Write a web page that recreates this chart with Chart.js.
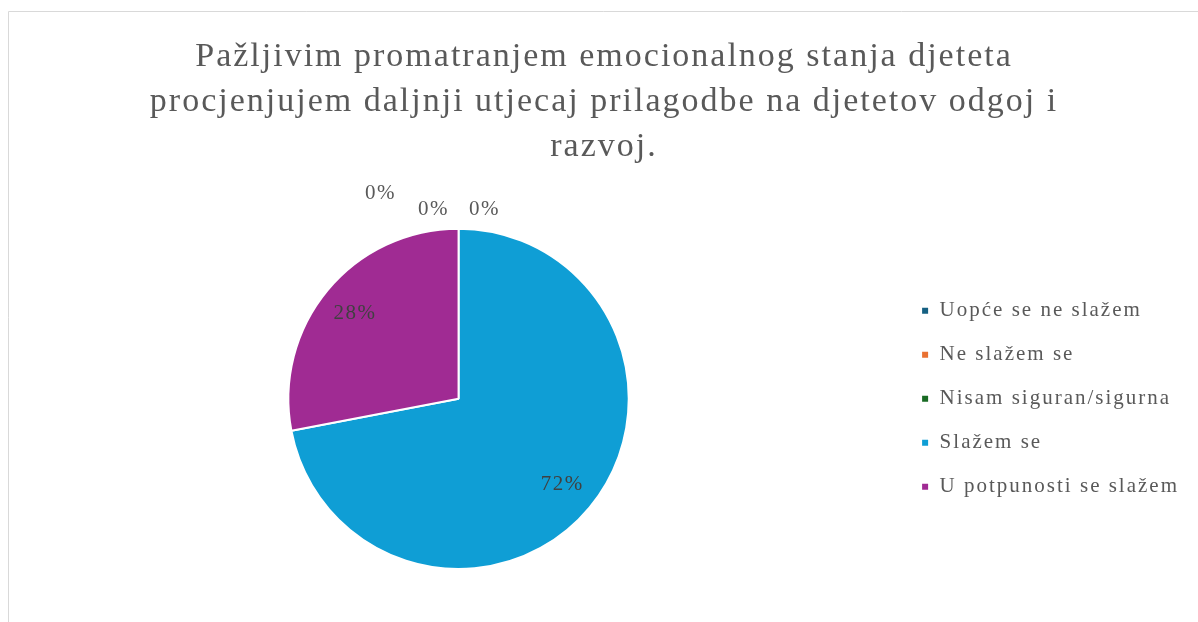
<!DOCTYPE html>
<html>
<head>
<meta charset="utf-8">
<script src="https://cdn.jsdelivr.net/npm/chart.js@4/dist/chart.umd.min.js"></script>
<style>
    html, body { margin: 0; padding: 0; background: #fff; }
    #wrap { width: 1198px; height: 622px; position: relative; }
</style>
</head>
<body>
<div id="wrap"><canvas id="pita" width="1198" height="622"></canvas></div>
<script>
// Podaci grafa
const naslov = [
    "Pažljivim promatranjem emocionalnog stanja djeteta",
    "procjenjujem daljnji utjecaj prilagodbe na djetetov odgoj i",
    "razvoj."
];
const kategorije = ["Uopće se ne slažem", "Ne slažem se", "Nisam siguran/sigurna", "Slažem se", "U potpunosti se slažem"];
const postoci = [0, 0, 0, 72, 28];
const boje = ["#156082", "#E97132", "#196B24", "#0F9ED5", "#A02B93"];

const serif = "'Liberation Serif', 'Times New Roman', serif";

// Razmak slova (kao u Wordu)
const razmakPlugin = {
    id: "razmak",
    beforeUpdate(chart) {
        chart.ctx.letterSpacing = "2px";
    },
    beforeDraw(chart) {
        chart.ctx.letterSpacing = "2px";
    }
};

// Okvir grafa (lijevo i gore)
const okvirPlugin = {
    id: "okvir",
    beforeDraw(chart) {
        const ctx = chart.ctx;
        ctx.save();
        ctx.strokeStyle = "#d9d9d9";
        ctx.lineWidth = 1;
        ctx.beginPath();
        ctx.moveTo(8.5, chart.height + 5);
        ctx.lineTo(8.5, 11.5);
        ctx.lineTo(chart.width + 5, 11.5);
        ctx.stroke();
        ctx.restore();
    }
};

// Oznake postotaka na kriškama
const oznakePlugin = {
    id: "oznake",
    afterDatasetsDraw(chart) {
        const ctx = chart.ctx;
        const meta = chart.getDatasetMeta(0);
        // pomaci za oznake nula (da se ne preklapaju)
        const pomaciNula = [[-78, -35], [-25, -19], [26, -19]];
        let n = 0;
        ctx.save();
        ctx.letterSpacing = "1.5px";
        ctx.font = "21px " + serif;
        ctx.textAlign = "center";
        ctx.textBaseline = "middle";
        meta.data.forEach((luk, i) => {
            const v = postoci[i];
            const tekst = v + "%";
            if (v === 0) {
                const p = luk.getProps(["x", "y", "outerRadius", "startAngle"], true);
                const bx = p.x + Math.cos(p.startAngle) * p.outerRadius;
                const by = p.y + Math.sin(p.startAngle) * p.outerRadius;
                const [dx, dy] = pomaciNula[n++] || [0, -22];
                ctx.fillStyle = "#595959";
                ctx.fillText(tekst, bx + dx, by + dy);
            } else {
                const p = luk.getProps(["x", "y", "outerRadius", "startAngle", "endAngle"], true);
                const kut = (p.startAngle + p.endAngle) / 2;
                const r = p.outerRadius * 0.79;
                ctx.fillStyle = "#404040";
                ctx.fillText(tekst, p.x + Math.cos(kut) * r, p.y + Math.sin(kut) * r);
            }
        });
        ctx.restore();
    }
};

const ctx = document.getElementById("pita").getContext("2d");

new Chart(ctx, {
    type: "pie",
    data: {
        labels: kategorije,
        datasets: [
            {
                data: postoci,
                backgroundColor: boje,
                borderColor: "#ffffff",
                borderWidth: 2,
            },
        ],
    },
    options: {
        responsive: false,
        animation: false,
        layout: {
            padding: { top: 10, bottom: 52, left: 19, right: 9 },
        },
        plugins: {
            title: {
                display: true,
                text: naslov,
                color: "#595959",
                font: { family: serif, size: 34, weight: "normal", lineHeight: 1.32 },
                padding: { top: 25, bottom: 58 },
            },
            legend: {
                position: "right",
                fullSize: false,
                maxWidth: 301,
                labels: {
                    color: "#595959",
                    font: { family: serif, size: 21 },
                    boxWidth: 8,
                    boxHeight: 8,
                    padding: 23,
                },
            },
            tooltip: { enabled: false },
        },
    },
    plugins: [razmakPlugin, okvirPlugin, oznakePlugin],
});
</script>
</body>
</html>
